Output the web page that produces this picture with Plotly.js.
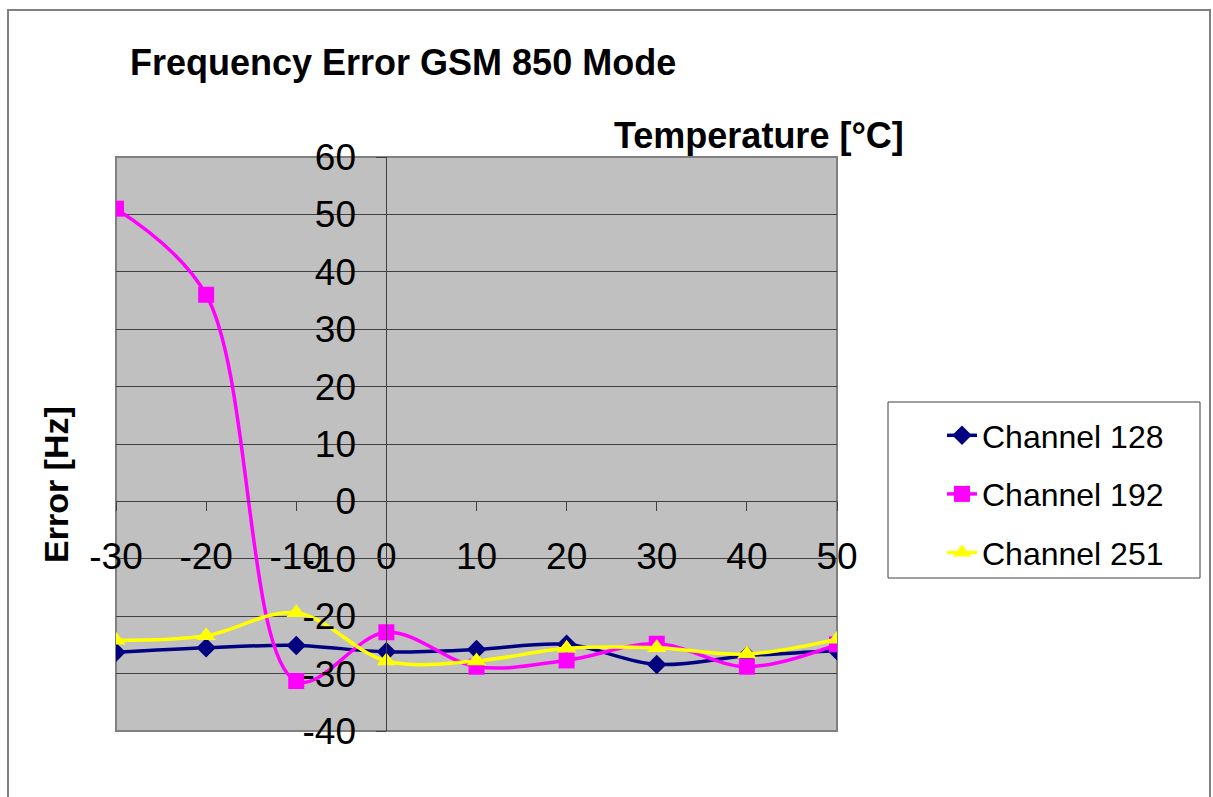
<!DOCTYPE html>
<html>
<head>
<meta charset="utf-8">
<script src="https://cdn.plot.ly/plotly-3.0.1.min.js"></script>
<style>html,body{margin:0;padding:0;background:#fff;}#chart{width:1213px;height:797px;}</style>
</head>
<body>
<div id="chart"></div>
<script>
const temperatures = [-30, -20, -10, 0, 10, 20, 30, 40, 50];
const channel128 = [-26.3, -25.5, -25.1, -26.2, -25.8, -24.9, -28.4, -26.9, -26.0];
const channel192 = [51.0, 36.0, -31.3, -22.8, -28.8, -27.7, -24.8, -28.8, -24.9];
const channel251 = [-24.2, -23.4, -19.4, -27.8, -27.8, -25.6, -25.5, -26.6, -24.0];
const seriesNames = ["Channel 128", "Channel 192", "Channel 251"];
const yTicks = [-40, -30, -20, -10, 0, 10, 20, 30, 40, 50, 60];
const chartTitle = "Frequency Error GSM 850 Mode";
const xTitle = "Temperature [°C]";
const yTitle = "Error [Hz]";

const FONT = "Liberation Sans, Arial, sans-serif";
const W = 1213, H = 797;
const L = 116, R = 837, T = 157, B = 731;
const px = x => (x - L) / (R - L);
const py = y => (B - y) / (B - T);

const traces = [
  {x: temperatures, y: channel128, name: seriesNames[0], legendgroup: "a",
   mode: "lines+markers", line: {color: "#000080", width: 3.5, shape: "spline", smoothing: 1},
   marker: {symbol: "diamond", size: 15, color: "#000080"}},
  {x: temperatures, y: channel192, name: seriesNames[1], legendgroup: "b",
   mode: "lines+markers", line: {color: "#FF00FF", width: 3.5, shape: "spline", smoothing: 1},
   marker: {symbol: "square", size: 16, color: "#FF00FF"}},
  {x: temperatures, y: channel251, name: seriesNames[2], legendgroup: "c",
   mode: "lines+markers", line: {color: "#FFFF00", width: 3.5, shape: "spline", smoothing: 1},
   marker: {symbol: "triangle-up", size: 17, color: "#FFFF00"}}
];

const layout = {
  width: W, height: H,
  margin: {l: L, r: W - R, t: T, b: H - B, pad: 0},
  paper_bgcolor: "#ffffff",
  plot_bgcolor: "#C0C0C0",
  font: {family: FONT, color: "#000000", size: 36},
  showlegend: true,
  legend: {
    x: px(942), y: py(408), xanchor: "left", yanchor: "top",
    bgcolor: "rgba(0,0,0,0)", borderwidth: 0,
    font: {family: FONT, size: 32, color: "#000000"},
    tracegroupgap: 14, itemwidth: 30
  },
  title: {text: "<b>" + chartTitle + "</b>", x: 130 / W, xref: "container", xanchor: "left",
          y: 1 - 62 / H, yref: "container", yanchor: "middle",
          font: {family: FONT, size: 36, color: "#000000"}},
  xaxis: {
    range: [-30, 50], tickvals: temperatures, ticktext: temperatures.map(String),
    anchor: "free", position: 0.4,
    showgrid: false, zeroline: false,
    showline: true, linecolor: "#404040", linewidth: 1,
    ticks: "outside", ticklen: 9, tickcolor: "#404040",
    ticklabelstandoff: 13,
    tickfont: {family: FONT, size: 37, color: "#000000"}
  },
  yaxis: {
    range: [-40, 60], tickvals: yTicks, ticktext: yTicks.map(String),
    anchor: "free", position: 0.375,
    showgrid: true, gridcolor: "#404040", gridwidth: 1, zeroline: false,
    showline: true, linecolor: "#404040", linewidth: 1,
    ticks: "outside", ticklen: 10, tickcolor: "#404040",
    ticklabelstandoff: 13,
    tickfont: {family: FONT, size: 37, color: "#000000"}
  },
  annotations: [
    {text: "<b>" + xTitle + "</b>", xref: "paper", yref: "paper", x: px(759), y: py(135),
     xanchor: "center", yanchor: "middle", showarrow: false,
     font: {family: FONT, size: 36, color: "#000000"}},
    {text: "<b>" + yTitle + "</b>", xref: "paper", yref: "paper", x: px(56), y: py(485),
     xanchor: "center", yanchor: "middle", showarrow: false, textangle: -90,
     font: {family: FONT, size: 34, color: "#000000"}}
  ],
  shapes: [
    {type: "rect", xref: "paper", yref: "paper", x0: 0, x1: 1, y0: 0, y1: 1,
     line: {color: "#808080", width: 2}, layer: "below"},
    {type: "rect", xref: "paper", yref: "paper", x0: px(8), x1: px(1210), y0: py(10), y1: py(830),
     line: {color: "#808080", width: 2}, fillcolor: "rgba(0,0,0,0)", layer: "below"},
    {type: "rect", xref: "paper", yref: "paper", x0: px(888), x1: px(1200), y0: py(402), y1: py(578),
     line: {color: "#404040", width: 1}, fillcolor: "#ffffff", layer: "below"}
  ]
};

Plotly.newPlot("chart", traces, layout, {displayModeBar: false, staticPlot: true});
</script>
</body>
</html>
